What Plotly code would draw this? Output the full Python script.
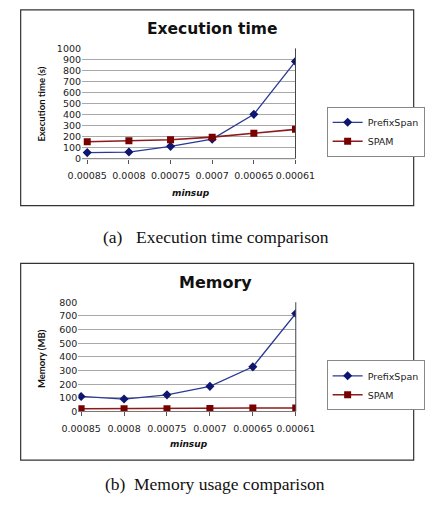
import plotly.graph_objects as go

categories = ["0.00085", "0.0008", "0.00075", "0.0007", "0.00065", "0.00061"]
exec_prefixspan = [55, 60, 112, 177, 402, 882]
exec_spam = [154, 163, 172, 195, 231, 266]
mem_prefixspan = [110, 91, 122, 184, 327, 718]
mem_spam = [20, 20, 20, 22, 25, 26]
exec_yticks = list(range(0, 1001, 100))
mem_yticks = list(range(0, 801, 100))

W, H = 441, 517
def px(x): return x / W
def py(y): return 1 - y / H

xi = list(range(len(categories)))
BLUE_L = "#2B3A95"
BLUE_M = "#0E1670"
RED_L = "#8E1B1B"
RED_M = "#7A0000"
SANS = "DejaVu Sans"

fig = go.Figure()
fig.add_trace(go.Scatter(x=xi, y=exec_prefixspan, name="PrefixSpan", mode="lines+markers",
                         line=dict(color=BLUE_L, width=1.3),
                         marker=dict(symbol="diamond", size=7, color=BLUE_M),
                         xaxis="x", yaxis="y", legend="legend"))
fig.add_trace(go.Scatter(x=xi, y=exec_spam, name="SPAM", mode="lines+markers",
                         line=dict(color=RED_L, width=1.6),
                         marker=dict(symbol="square", size=7, color=RED_M),
                         xaxis="x", yaxis="y", legend="legend"))
fig.add_trace(go.Scatter(x=xi, y=mem_prefixspan, name="PrefixSpan", mode="lines+markers",
                         line=dict(color=BLUE_L, width=1.3),
                         marker=dict(symbol="diamond", size=7, color=BLUE_M),
                         xaxis="x2", yaxis="y2", legend="legend2"))
fig.add_trace(go.Scatter(x=xi, y=mem_spam, name="SPAM", mode="lines+markers",
                         line=dict(color=RED_L, width=1.6),
                         marker=dict(symbol="square", size=7, color=RED_M),
                         xaxis="x2", yaxis="y2", legend="legend2"))

axfont = dict(family=SANS, size=9.5, color="#222222")
common_x = dict(tickmode="array", tickvals=xi, ticktext=categories, tickfont=axfont,
                tickangle=0, showgrid=False, zeroline=False, showline=False, ticks="outside",
                ticklen=4, tickcolor="#555555", ticklabelstandoff=4, fixedrange=True)
common_y = dict(tickmode="array", tickfont=axfont, showgrid=True, gridcolor="#A8A8A8",
                gridwidth=1, zeroline=False, showline=False, ticks="", fixedrange=True)

fig.update_layout(
    width=W, height=H, margin=dict(l=0, r=0, t=0, b=0),
    paper_bgcolor="white", plot_bgcolor="white", showlegend=True,
    xaxis=dict(domain=[px(71), px(304)], range=[-0.125, 5], anchor="y", **common_x),
    yaxis=dict(domain=[py(156), py(43.3)], range=[0, 1000], tickvals=exec_yticks,
               anchor="x", **common_y),
    xaxis2=dict(domain=[px(67), px(304.3)], range=[-0.064, 5], anchor="y2", **common_x),
    yaxis2=dict(domain=[py(414.3), py(302.7)], range=[0, 800], tickvals=mem_yticks,
                anchor="x2", **common_y),
    legend=dict(x=px(338), y=py(103), xanchor="left", yanchor="top",
                font=dict(family=SANS, size=9.5, color="#222"), bgcolor="white",
                bordercolor="#888888", borderwidth=1, tracegroupgap=0, itemwidth=30),
    legend2=dict(x=px(338), y=py(362), xanchor="left", yanchor="top",
                 font=dict(family=SANS, size=9.5, color="#222"), bgcolor="white",
                 bordercolor="#888888", borderwidth=1, tracegroupgap=0, itemwidth=30),
)

shapes = [
    dict(type="rect", xref="paper", yref="paper", x0=px(4), x1=px(433), y0=py(204), y1=py(4),
         line=dict(color="#333333", width=1.2)),
    dict(type="rect", xref="paper", yref="paper", x0=px(4), x1=px(433), y0=py(464), y1=py(263),
         line=dict(color="#333333", width=1.2)),
    dict(type="line", xref="x domain", yref="y domain", x0=1, x1=1, y0=0, y1=1,
         line=dict(color="#444444", width=1)),
    dict(type="line", xref="x2 domain", yref="y2 domain", x0=1, x1=1, y0=0, y1=1,
         line=dict(color="#444444", width=1)),
    dict(type="line", xref="x domain", yref="y domain", x0=0, x1=1, y0=0, y1=0,
         line=dict(color="#777777", width=1)),
    dict(type="line", xref="x2 domain", yref="y2 domain", x0=0, x1=1, y0=0, y1=0,
         line=dict(color="#777777", width=1)),
]
fig.update_layout(shapes=shapes)

ann = []
def A(text, x, y, size, family=SANS, bold=False, italic=False, angle=0, color="#111111"):
    t = text
    if bold:
        t = "<b>" + t + "</b>"
    if italic:
        t = "<i>" + t + "</i>"
    ann.append(dict(text=t, x=px(x), y=py(y), xref="paper", yref="paper", showarrow=False,
                    xanchor="center", yanchor="middle", textangle=angle,
                    font=dict(family=family, size=size, color=color)))

A("Execution time", 213, 24, 15.5, bold=True)
A("Memory", 217, 282, 16, bold=True)
A("Execution time (s)", 27, 100, 9.5, family="Lato", bold=True, angle=-90)
A("Memory (MB)", 27, 360, 9.5, family="Lato", bold=True, angle=-90)
A("minsup", 190, 191, 9, bold=True, italic=True)
A("minsup", 188, 448, 9, bold=True, italic=True)
A("(a)", 105, 236, 17.5, family="Liberation Serif")
A("Execution time comparison", 235.5, 236, 17.5, family="Liberation Serif")
A("(b)", 107.5, 488, 17.5, family="Liberation Serif")
A("Memory usage comparison", 232.5, 488, 17.5, family="Liberation Serif")
fig.update_layout(annotations=ann)

fig.write_html("out.html")
